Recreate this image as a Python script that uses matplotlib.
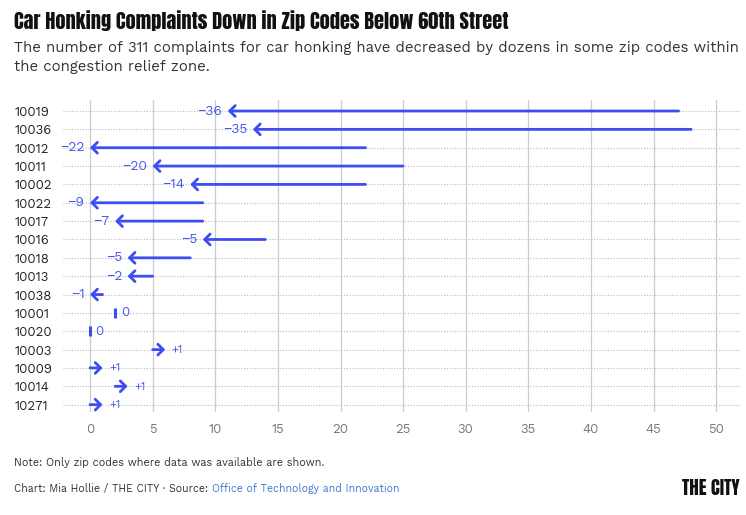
import matplotlib
matplotlib.use('Agg')
import matplotlib.pyplot as plt

zips = ['10019', '10036', '10012', '10011', '10002', '10022', '10017', '10016',
        '10018', '10013', '10038', '10001', '10020', '10003', '10009', '10014', '10271']
before = [47, 48, 22, 25, 22, 9, 9, 14, 8, 5, 1, 2, 0, 5, 0, 2, 0]
after = [11, 13, 0, 5, 8, 0, 2, 9, 3, 3, 0, 2, 0, 6, 1, 3, 1]
xticks = [0, 5, 10, 15, 20, 25, 30, 35, 40, 45, 50]

blue = '#3D4DF2'
label_blue = '#4656F0'

plt.rcParams['font.family'] = ['Work Sans', 'DejaVu Sans']

fig = plt.figure(figsize=(7.46, 5.15), dpi=100)
ax = fig.add_axes([63 / 746, 1 - 412 / 515, (740 - 63) / 746, 312 / 515])

ax.set_xlim(-2.16, 51.9)
ax.set_ylim(len(zips) - 0.6, -0.6)

for i, (b, a) in enumerate(zip(before, after)):
    ax.plot([-2.16, 51.9], [i, i], color='#bbbbbb', lw=0.8, ls=(0, (1, 1.5)), zorder=1)
    d = a - b
    if d == 0:
        ax.plot([a, a], [i - 0.28, i + 0.28], color=blue, lw=2.2, solid_capstyle='butt', zorder=3)
        ax.annotate('0', xy=(a, i), xytext=(4, 0), textcoords='offset points',
                    ha='left', va='center', fontsize=9.5, color=label_blue)
        continue
    ax.annotate('', xy=(a, i), xytext=(b, i),
                arrowprops=dict(arrowstyle='->,head_length=0.26,head_width=0.26', color=blue, lw=2.0,
                                shrinkA=0, shrinkB=0, mutation_scale=15))
    if d < 0:
        ax.annotate('\u2212%d' % abs(d), xy=(a, i), xytext=(-4, 0), textcoords='offset points',
                    ha='right', va='center', fontsize=10, color=label_blue)
    else:
        ax.annotate('+%d' % d, xy=(a, i), xytext=(4.5, 0), textcoords='offset points',
                    ha='left', va='center', fontsize=8, color=label_blue)

for x in xticks:
    ax.axvline(x, color='#cccccc', lw=0.9, zorder=0)

ax.set_xticks(xticks)
ax.set_xticklabels([str(x) for x in xticks])
ax.set_yticks(range(len(zips)))
ax.set_yticklabels(zips)
ax.tick_params(axis='x', length=0, pad=8, labelsize=9.5, labelcolor='#777777')
ax.tick_params(axis='y', length=0, pad=35, labelsize=9.5, labelcolor='#222222')
for lab in ax.get_yticklabels():
    lab.set_horizontalalignment('left')
for s in ax.spines.values():
    s.set_visible(False)

fig.text(14 / 746, 1 - 21 / 515, 'Car Honking Complaints Down in Zip Codes Below 60th Street',
         family=['Anton', 'DejaVu Sans'], fontsize=14.7,
         va='center', ha='left', color='#111111')
fig.text(14 / 746, 1 - 57.5 / 515,
         'The number of 311 complaints for car honking have decreased by dozens in some zip codes within\nthe congestion relief zone.',
         fontsize=10.75, va='center', ha='left', color='#333333', linespacing=1.45)
fig.text(14 / 746, 1 - 462 / 515, 'Note: Only zip codes where data was available are shown.',
         fontsize=7.8, va='center', ha='left', color='#333333')
t1 = fig.text(14 / 746, 1 - 488 / 515, 'Chart: Mia Hollie / THE CITY \u00b7 Source: ',
              fontsize=7.6, va='center', ha='left', color='#333333')
fig.canvas.draw()
bb = t1.get_window_extent()
fig.text(bb.x1 / 746, 1 - 488 / 515, 'Office of Technology and Innovation',
         fontsize=7.6, va='center', ha='left', color='#3f78d0')
fig.text(740 / 746, 1 - 488 / 515, 'THE CITY', family=['Anton', 'DejaVu Sans'],
         fontsize=13.5, va='center', ha='right', color='#111111')

fig.savefig('out.png', dpi=100)
